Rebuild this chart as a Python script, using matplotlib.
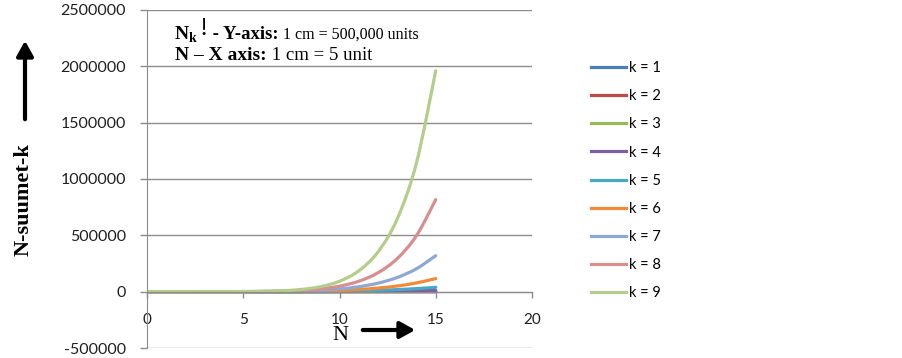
import matplotlib.pyplot as plt
from matplotlib.path import Path
from matplotlib.patches import PathPatch
from matplotlib.lines import Line2D
from matplotlib.ticker import FuncFormatter

# N values on the x axis
n_values = list(range(16))

# one series per k
k1 = [0, 1, 3, 6, 10, 15, 21, 28, 36, 45, 55, 66, 78, 91, 105, 120]
k2 = [0, 1, 4, 10, 20, 35, 56, 84, 120, 165, 220, 286, 364, 455, 560, 680]
k3 = [0, 1, 5, 15, 35, 70, 126, 210, 330, 495, 715, 1001, 1365, 1820, 2380, 3060]
k4 = [0, 1, 6, 21, 56, 126, 252, 462, 792, 1287, 2002, 3003, 4368, 6188, 8568, 11628]
k5 = [0, 1, 7, 28, 84, 210, 462, 924, 1716, 3003, 5005, 8008, 12376, 18564, 27132, 38760]
k6 = [0, 1, 8, 36, 120, 330, 792, 1716, 3432, 6435, 11440, 19448, 31824, 50388, 77520, 116280]
k7 = [0, 1, 9, 45, 165, 495, 1287, 3003, 6435, 12870, 24310, 43758, 75582, 125970, 203490, 319770]
k8 = [0, 1, 10, 55, 220, 715, 2002, 5005, 11440, 24310, 48620, 92378, 167960, 293930, 497420, 817190]
k9 = [0, 1, 11, 66, 286, 1001, 3003, 8008, 19448, 43758, 92378, 184756, 352716, 646646, 1144066, 1961256]

series = [k1, k2, k3, k4, k5, k6, k7, k8, k9]
labels = ['k = %d' % i for i in range(1, 10)]
colors = ['#4A7EBB', '#BE4B48', '#98B954', '#7D60A0', '#46AAC5',
          '#F38A3A', '#8EA8D6', '#D68F8E', '#B4CD8A']

x_ticks = [0, 5, 10, 15, 20]
y_ticks = [-500000, 0, 500000, 1000000, 1500000, 2000000, 2500000]


def smooth_path(xs, ys):
    # Excel-style smoothed line through the points (Catmull-Rom as Bezier)
    pts = list(zip(xs, ys))
    verts = [pts[0]]
    codes = [Path.MOVETO]
    n = len(pts)
    for i in range(n - 1):
        p0 = pts[max(i - 1, 0)]
        p1 = pts[i]
        p2 = pts[i + 1]
        p3 = pts[min(i + 2, n - 1)]
        c1 = (p1[0] + (p2[0] - p0[0]) / 6, p1[1] + (p2[1] - p0[1]) / 6)
        c2 = (p2[0] - (p3[0] - p1[0]) / 6, p2[1] - (p3[1] - p1[1]) / 6)
        verts += [c1, c2, p2]
        codes += [Path.CURVE4] * 3
    return Path(verts, codes)


W, H = 903, 358
fig = plt.figure(figsize=(W / 100, H / 100), dpi=100)
ax = fig.add_axes([147 / W, 1 - 348 / H, (532 - 147) / W, (348 - 10) / H])

handles = []
for ys, lab, c in zip(series, labels, colors):
    ax.add_patch(PathPatch(smooth_path(n_values, ys), fill=False, edgecolor=c,
                           lw=2.3, capstyle='round', joinstyle='round'))
    handles.append(Line2D([], [], color=c, lw=2.3, label=lab))

ax.set_xlim(0, 20)
ax.set_ylim(-500000, 2500000)
ax.set_xticks(x_ticks)
ax.set_yticks(y_ticks)
ax.yaxis.set_major_formatter(FuncFormatter(lambda v, p: '%d' % v))
ax.yaxis.grid(True, color='#8C8C8C', lw=1)
ax.set_axisbelow(True)

for s in ['top', 'right']:
    ax.spines[s].set_visible(False)
ax.spines['bottom'].set_position(('data', 0))
ax.spines['bottom'].set_color('#8C8C8C')
ax.spines['left'].set_color('#8C8C8C')
ax.tick_params(axis='y', length=5, width=1, color='#8C8C8C', pad=10)
ax.tick_params(axis='x', length=4, width=1, color='#8C8C8C', pad=11)
for t in ax.get_yticklabels():
    t.set_fontfamily('Lato')
    t.set_fontsize(11.5)
    t.set_color('#202020')
for t in ax.get_xticklabels():
    t.set_fontfamily('Lato')
    t.set_fontsize(11)
    t.set_color('#202020')

# legend on the right
fig.legend(handles=handles, loc='upper left', bbox_to_anchor=(578 / W, 1 - 48 / H),
           frameon=False, prop={'family': 'Lato', 'size': 10.5}, handlelength=2.4,
           handletextpad=0.2, labelspacing=0.97)

# scale note at the top of the plot, pieces laid out along a baseline
serif = 'Liberation Serif'
renderer = fig.canvas.get_renderer()


def text_run(x0, base, pieces):
    x = x0
    for s, size, weight, dx, dy in pieces:
        t = fig.text((x + dx) / W, 1 - (base - dy) / H, s, family=serif, size=size,
                     weight=weight, va='baseline')
        x = t.get_window_extent(renderer).x1


text_run(175, 39, [('N', 14, 'bold', 0, 0), ('k', 10, 'bold', 0, -3),
                   ('!', 18, 'normal', 3, 4),
                   (' - Y-axis:', 13.5, 'bold', 0, 0),
                   (' 1 cm = 500,000 units', 11.5, 'normal', 0, 0)])
text_run(175, 60, [('N \u2013 X axis:', 14, 'bold', 0, 0),
                   (' 1 cm = 5 unit', 13.5, 'normal', 0, 0)])

# axis labels with arrows
fig.text(24 / W, 1 - 200 / H, 'N-suumet-k', family=serif, weight='bold', size=16,
         rotation=90, ha='center', va='center')
ax.annotate('', xy=(25 / W, 1 - 38 / H), xytext=(25 / W, 1 - 122 / H),
            xycoords='figure fraction', textcoords='figure fraction',
            arrowprops=dict(arrowstyle='-|>,head_length=0.9,head_width=0.5', lw=3, color='black'))
fig.text(340 / W, 1 - 335 / H, 'N', family=serif, size=16, ha='center', va='center')
ax.annotate('', xy=(418 / W, 1 - 330 / H), xytext=(360 / W, 1 - 330 / H),
            xycoords='figure fraction', textcoords='figure fraction',
            arrowprops=dict(arrowstyle='-|>,head_length=0.9,head_width=0.5', lw=3, color='black'))

fig.savefig('out.png', dpi=100)
